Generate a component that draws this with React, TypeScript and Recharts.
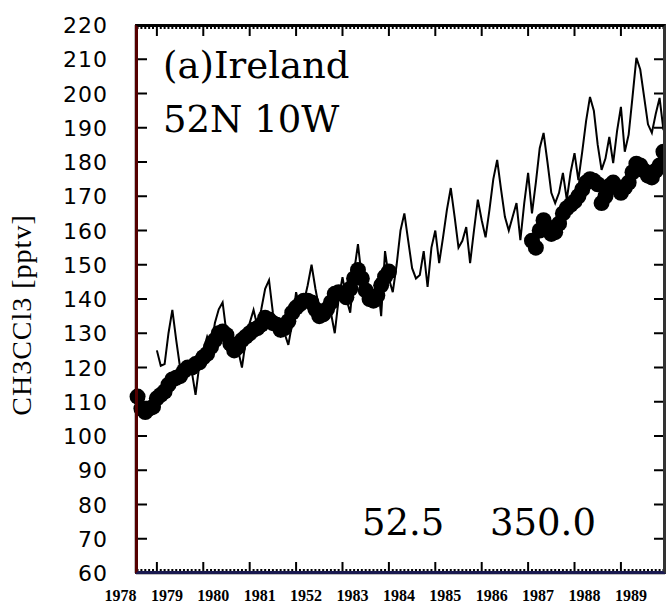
import { ComposedChart, Line, XAxis, YAxis } from "recharts";

// monthly model run, Jan 1979 .. Dec 1989
const modelStart = 1979;
const modelValues = [
  125, 120.5, 121, 130, 136.8, 128, 120, 118.5, 118, 119, 112, 121,
  125, 129, 126, 133, 137, 139, 130, 125, 124, 125, 120, 128,
  133, 136.8, 132, 137, 143, 145.5, 136, 130, 129, 130, 126.6, 133,
  142, 137, 139, 144, 150, 143, 137, 134, 134, 136, 130, 140,
  146.4, 140, 136, 148, 156, 146, 141, 139, 140, 146, 135, 154,
  146, 142, 150, 160, 165, 157, 149, 146, 147, 154, 143.5, 155,
  160, 150.5, 158, 166, 172.4, 164, 155, 157, 161, 150.5, 160, 169,
  163, 158, 166, 175, 180.6, 172, 164, 160, 164, 168, 157.2, 168,
  176.8, 165, 174, 184, 188.5, 180, 171, 168, 171, 176.8, 169, 177,
  182.6, 174.7, 183, 192, 199, 195, 185, 177.7, 181, 187.3, 179.7, 189,
  196.1, 183, 188, 199, 210.4, 207, 199, 191, 188.5, 194, 198.7, 189.3,
];

// observed monthly means, Aug 1978 .. Jan 1984
const obsEarlyStart = 1978 + 7 / 12;
const obsEarlyValues = [
  111.5, 108, 107, 108, 108.5, 111,
  112, 113, 115, 116.5, 117, 117.5, 119, 120, 120, 121, 121.5, 123,
  124, 126, 128, 130, 130.5, 129.5, 127, 125, 126, 128, 129, 130,
  131, 131.5, 132.5, 134.5, 134, 133, 132.5, 131, 131.5, 133.5, 136, 137.5,
  138.5, 139.5, 139.5, 139, 137, 135, 135.5, 137, 139, 141.5, 142, 141.5,
  140.5, 143, 146, 148.5, 146, 142.5, 140, 139.5, 141, 144, 146.5, 148,
];

// observed monthly means, Feb 1987 .. Dec 1989
const obsLateStart = 1987 + 1 / 12;
const obsLateValues = [
  157, 155, 160, 163, 161, 159, 159.5, 162, 165, 166.5, 167.5,
  168.5, 170, 172, 174, 175, 174.5, 173.5, 168, 170, 173, 174, 172.5,
  171, 172.5, 174, 177, 179.5, 179, 177.5, 176, 175.5, 177.5, 179, 183,
];

const tickYears = [1978, 1979, 1980, 1981, 1982, 1983, 1984, 1985, 1986, 1987, 1988, 1989];
const yearLabels = ["1978", "1979", "1980", "1981", "1952", "1983", "1984", "1985", "1986", "1987", "1988", "1989"];
const yTicks = [60, 70, 80, 90, 100, 110, 120, 130, 140, 150, 160, 170, 180, 190, 200, 210, 220];

const X_MIN = 1978.55;
const X_MAX = 1989.95;
const Y_MIN = 60;
const Y_MAX = 220;

// plot box edges (chart is 666x605)
const PLOT_LEFT = 136;
const PLOT_TOP = 25;
const PLOT_RIGHT = 665;
const PLOT_BOTTOM = 573;

const INK = "#000";

const monthly = (start: number, values: number[]) =>
  values.map((y, i) => ({ x: start + i / 12, y }));

const modelData = monthly(modelStart, modelValues);
const obsEarly = monthly(obsEarlyStart, obsEarlyValues);
const obsLate = monthly(obsLateStart, obsLateValues);

const xTicks = tickYears
  .flatMap((yr) => Array.from({ length: 12 }, (_, m) => yr + m / 12))
  .filter((v) => v === tickYears[0] || (v >= X_MIN && v <= X_MAX));

const isYear = (v: number) => Math.abs(v - Math.round(v)) < 1e-6;

// inward ticks on bottom and top edges, labels under the bottom
function XTick(props: any) {
  const { x, y, payload } = props;
  const v = payload.value as number;
  const major = isYear(v);
  const len = major ? 11 : 4;
  const idx = tickYears.indexOf(Math.round(v));
  return (
    <g>
      {v >= X_MIN && <rect x={x - 1} y={y - len} width={2} height={len} fill={INK} />}
      {v >= X_MIN && <rect x={x - 1} y={PLOT_TOP} width={2} height={len} fill={INK} />}
      {major && (
        <text
          x={x + 10}
          y={y + 28}
          textAnchor="middle"
          fontFamily="'Liberation Serif', serif"
          fontWeight="bold"
          fontSize={16}
          fill="#000"
        >
          {yearLabels[idx]}
        </text>
      )}
    </g>
  );
}

// inward ticks on left and right edges, labels left
function YTick(props: any) {
  const { x, y, payload } = props;
  return (
    <g>
      <rect x={x} y={y - 1} width={11} height={2} fill={INK} />
      <rect x={PLOT_RIGHT - 11} y={y - 1} width={11} height={2} fill={INK} />
      <text
        x={x - 28}
        y={y + 8}
        textAnchor="end"
        fontFamily="'DejaVu Sans', sans-serif"
        fontSize={22}
        letterSpacing={1}
        fill="#000"
      >
        {payload.value}
      </text>
    </g>
  );
}

const Blob = (props: any) => <circle key={props.index} cx={props.cx} cy={props.cy} r={8} fill="#000" />;

const serifFont = "'DejaVu Serif', serif";
const note = (left: number, top: number, size: number) => ({
  position: "absolute" as const,
  left,
  top,
  fontFamily: serifFont,
  fontSize: size,
  lineHeight: `${size}px`,
  whiteSpace: "nowrap" as const,
  color: "#000",
});

export default function App() {
  return (
    <div style={{ position: "absolute", left: 0, top: 0, width: 666, height: 605, background: "#fff" }}>
      <ComposedChart width={666} height={605} margin={{ top: PLOT_TOP, right: 1, bottom: 0, left: 0 }}>
        <XAxis
          xAxisId="bottom"
          dataKey="x"
          type="number"
          domain={[X_MIN, X_MAX]}
          ticks={xTicks}
          interval={0}
          height={32}
          tickSize={0}
          tickMargin={0}
          tickLine={false}
          axisLine={{ stroke: INK, strokeWidth: 2.5 }}
          tick={<XTick />}
        />
        <YAxis
          yAxisId="left"
          dataKey="y"
          type="number"
          domain={[Y_MIN, Y_MAX]}
          ticks={yTicks}
          interval={0}
          width={136}
          tickSize={0}
          tickMargin={0}
          tickLine={false}
          axisLine={{ stroke: INK, strokeWidth: 2.5 }}
          tick={<YTick />}
        />
        <Line
          xAxisId="bottom"
          yAxisId="left"
          data={obsEarly}
          dataKey="y"
          stroke="none"
          dot={Blob}
          activeDot={false}
          isAnimationActive={false}
        />
        <Line
          xAxisId="bottom"
          yAxisId="left"
          data={obsLate}
          dataKey="y"
          stroke="none"
          dot={Blob}
          activeDot={false}
          isAnimationActive={false}
        />
        <Line
          xAxisId="bottom"
          yAxisId="left"
          data={modelData}
          dataKey="y"
          type="linear"
          stroke="#000"
          strokeWidth={2}
          dot={false}
          activeDot={false}
          isAnimationActive={false}
        />
      </ComposedChart>
      {/* plot frame */}
      <div
        style={{
          position: "absolute",
          left: PLOT_LEFT - 1,
          top: PLOT_TOP - 1,
          width: PLOT_RIGHT - PLOT_LEFT + 2,
          height: PLOT_BOTTOM - PLOT_TOP + 2,
          boxSizing: "border-box",
          borderStyle: "solid",
          borderWidth: 3,
          borderTopColor: "#000",
          borderRightColor: "#333",
          borderBottomColor: "#1a1a50",
          borderLeftColor: "#500",
          pointerEvents: "none",
        }}
      />
      <div style={note(163, 47, 37)}>(a)Ireland</div>
      <div style={note(163, 101, 37)}>52N 10W</div>
      <div style={note(362, 504, 37)}>52.5</div>
      <div style={note(490, 504, 37)}>350.0</div>
      <div
        style={{
          position: "absolute",
          left: 21.5 - 120,
          top: 315 - 14,
          width: 240,
          height: 28,
          lineHeight: "28px",
          textAlign: "center",
          fontFamily: "'Liberation Serif', serif",
          fontSize: 28,
          letterSpacing: 1,
          whiteSpace: "nowrap",
          transform: "rotate(-90deg)",
          color: "#000",
        }}
      >
        CH3CCl3 [pptv]
      </div>
    </div>
  );
}
